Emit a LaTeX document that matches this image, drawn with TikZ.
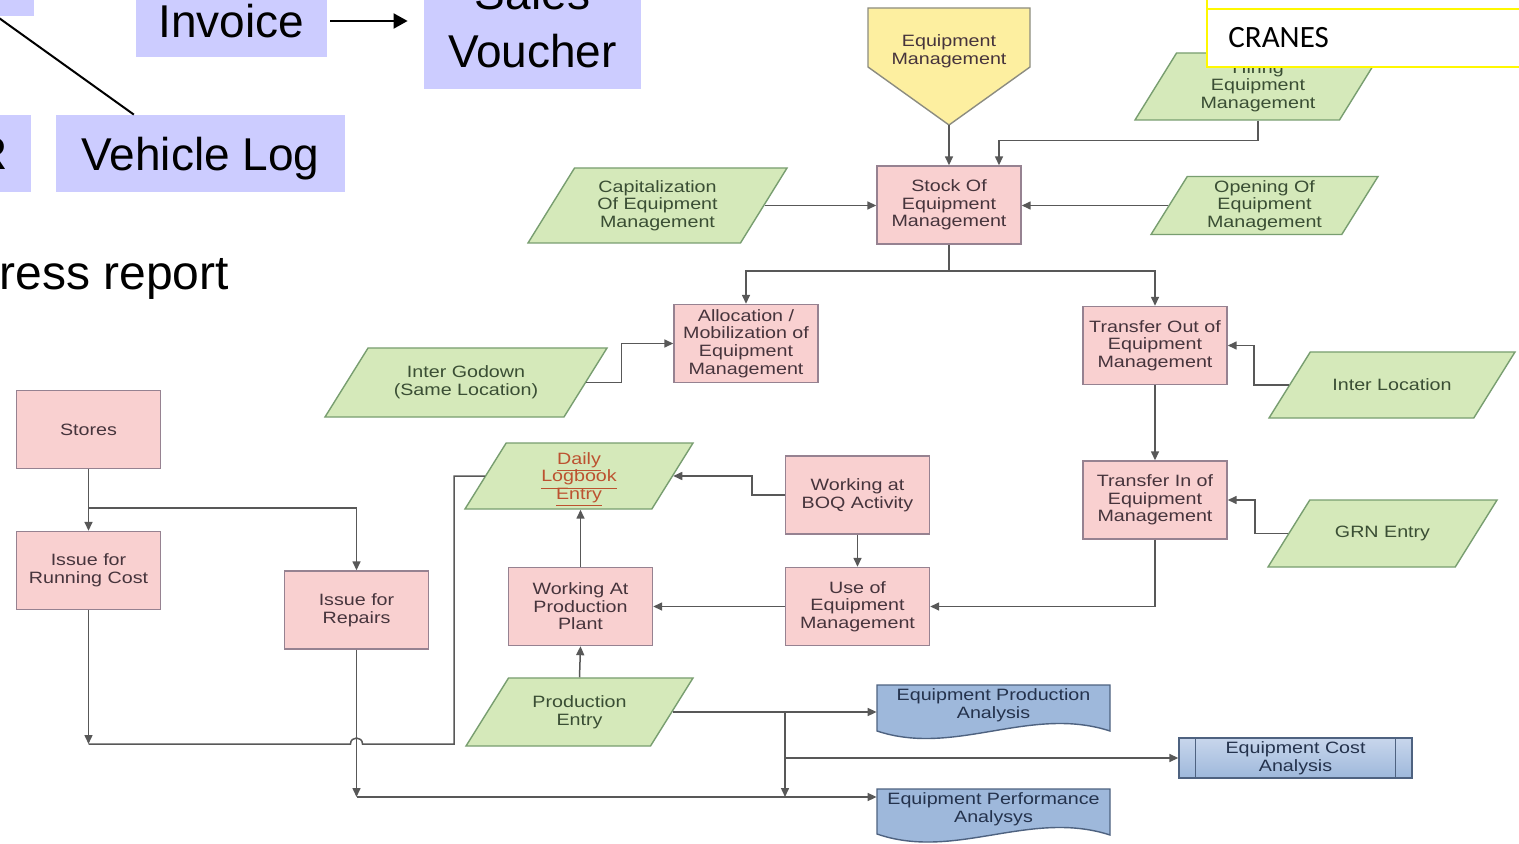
\documentclass[tikz,border=0pt]{standalone}
\usepackage{amsmath}
\usepackage{fontspec}
\setmainfont{Liberation Sans}
\newfontfamily\flowfont[FakeStretch=1.2]{Liberation Sans}
\newfontfamily\cranefont{Carlito}
\usetikzlibrary{shapes.geometric,arrows.meta,calc}
\definecolor{slidebox}{RGB}{204,204,255}
\definecolor{procfill}{RGB}{249,208,208}
\definecolor{procline}{RGB}{150,130,145}
\definecolor{proctext}{RGB}{70,52,60}
\definecolor{iofill}{RGB}{213,233,186}
\definecolor{ioline}{RGB}{120,158,112}
\definecolor{iotext}{RGB}{58,78,52}
\definecolor{pentfill}{RGB}{253,239,160}
\definecolor{pentline}{RGB}{140,140,128}
\definecolor{docfill}{RGB}{158,184,219}
\definecolor{doctop}{RGB}{200,214,236}
\definecolor{docline}{RGB}{78,98,128}
\definecolor{doctext}{RGB}{36,50,76}
\definecolor{flowline}{RGB}{88,88,88}
\definecolor{logtext}{RGB}{188,82,48}
\definecolor{craneline}{RGB}{255,248,0}
\newcommand\flowsize{\fontsize{8.2}{8.8}\selectfont}
\newcommand\slidesize{\fontsize{23}{29}\selectfont}
\newcommand\logline[1]{\smash[b]{\underline{#1}}}

\begin{document}
\begin{tikzpicture}[x=0.5pt,y=-0.5pt,
  slide/.style={rectangle, fill=slidebox, inner sep=0pt, text depth=0pt, font=\slidesize},
  slideline/.style={black, line width=1pt},
  proc/.style={rectangle, draw=procline, fill=procfill, line width=0.7pt, minimum width=72pt, minimum height=39pt, align=center, font=\flowfont\flowsize, text=proctext},
  io/.style={trapezium, trapezium left angle=58, trapezium right angle=122, trapezium stretches body, draw=ioline, fill=iofill, line width=0.7pt, align=center, font=\flowfont\flowsize, text=iotext},
  docnode/.style={rectangle, minimum width=116.5pt, minimum height=20pt, align=center, font=\flowfont\flowsize, text=doctext},
  docshape/.style={draw=docline, fill=docfill, line width=0.7pt},
  flow/.style={draw=flowline, line width=0.75pt, -{Triangle[length=4.5pt,width=4pt]}},
  link/.style={draw=flowline, line width=0.75pt}]
\tikzstyle{every node}+=[inner sep=1pt]
\useasboundingbox (0,0) rectangle (1519,844);
\clip (0,0) rectangle (1519,844);
\fill[white] (0,0) rectangle (1519,844);

\node[slide, minimum width=18.5pt, minimum height=20pt, anchor=south east] (dpbox) at (34,16) {};
\node[slide, minimum width=95.5pt, minimum height=36pt] (invoice) at (231.5,21) {Invoice};
\node[slide, minimum width=108.5pt, inner ysep=10.5pt, anchor=south, align=center] (svouch) at (532.5,89) {Sales\\Voucher};
\node[slide, minimum width=144.5pt, minimum height=38.5pt] (vlog) at (200.5,153.5) {Vehicle Log};
\node[slide, text width=20pt, align=right, inner xsep=11.5pt, minimum height=38.5pt, anchor=east] (rbox) at (31,153.5) {R};
\node[anchor=base west, inner sep=0pt, font=\fontsize{24}{29}\selectfont] (prog) at (-1,290) {ress report};
\draw[slideline] (dpbox.south west) -- ($(vlog.north west)!0.27!(vlog.north east)$);
\draw[slideline, -{Triangle[length=7pt,width=7.5pt]}, shorten <=1.5pt, shorten >=8pt] (invoice.east) -- (svouch.west |- invoice.east);

\draw[draw=pentline, fill=pentfill, line width=0.7pt] (868,8) -- (1030,8) -- (1030,67) -- (949,125) -- (868,67) -- cycle;
\node[align=center, font=\flowfont\flowsize, text=proctext] (eqm) at (949,51.5) {Equipment\\Management};
\coordinate (eqtip) at (949,125);

\node[proc] (stock) at (949,205) {Stock Of\\Equipment\\Management};
\node[io, inner ysep=4pt, minimum width=123pt, minimum height=33.5pt] (hire) at (1258,86.5) {Hiring\\Equipment\\Management};
\node[io, inner ysep=6pt, minimum width=129.5pt, minimum height=37.5pt] (cap) at (657.5,205.5) {Capitalization\\Of Equipment\\Management};
\node[io, inner ysep=1.9pt, minimum width=113.5pt, minimum height=29pt] (open) at (1264.5,205.5) {Opening Of\\Equipment\\Management};
\node[proc] (alloc) at (746,343.5) {Allocation /\\Mobilization of\\Equipment\\Management};
\node[io, inner ysep=9pt, minimum width=141pt, minimum height=34.5pt] (igd) at (466,382.5) {Inter Godown\\(Same Location)};
\node[proc] (tout) at (1155,345.5) {Transfer Out of\\Equipment\\Management};
\node[io, inner ysep=13.5pt, minimum width=123pt, minimum height=33pt] (iloc) at (1392,385) {Inter Location};
\node[proc] (tin) at (1155,500) {Transfer In of\\Equipment\\Management};
\node[io, inner ysep=13pt, minimum width=114.5pt, minimum height=33.5pt] (grn) at (1382.5,533.5) {GRN Entry};
\node[proc] (boq) at (857.5,495) {Working at\\BOQ Activity};
\node[proc] (use) at (857.5,606.5) {Use of\\Equipment\\Management};
\node[proc] (wapp) at (580.5,606.5) {Working At\\Production\\Plant};
\node[io, inner ysep=4.7pt, minimum width=114pt, minimum height=33pt, text=logtext] (daily) at (579,476) {\logline{Daily}\\\logline{Logbook}\\\logline{Entry}};
\node[io, inner ysep=8.8pt, minimum width=113.5pt, minimum height=34pt] (pe) at (579.5,712) {Production\\Entry};
\node[proc] (stores) at (88.5,429.5) {Stores};
\node[proc] (run) at (88.5,570.5) {Issue for\\Running Cost};
\node[proc] (rep) at (356.5,610) {Issue for\\Repairs};

\draw[docshape] (877,685) -- (1110,685) -- (1110,731) .. controls (1030,705) and (955,757) .. (877,731) -- cycle;
\node[docnode] (epa) at (993.5,705) {Equipment Production\\Analysis};
\draw[docshape] (877,789) -- (1110,789) -- (1110,835) .. controls (1030,809) and (955,861) .. (877,834) -- cycle;
\node[docnode] (epf) at (993.5,809) {Equipment Performance\\Analysys};
\node[docnode, draw=docline, line width=0.7pt, top color=doctop, bottom color=docfill] (ecost) at (1295.5,758) {Equipment Cost\\Analysis};
\draw[docline, line width=0.7pt] ([xshift=8.5pt]ecost.north west) -- ([xshift=8.5pt]ecost.south west);
\draw[docline, line width=0.7pt] ([xshift=-8.5pt]ecost.north east) -- ([xshift=-8.5pt]ecost.south east);

\coordinate (sbr) at (949,271);
\coordinate (sj) at (88.5,508);
\coordinate (lj) at (88.5,744);
\coordinate (dj) at (454,744);
\coordinate (rj) at (356.5,797);
\coordinate (pj) at (785,712);
\coordinate (pk) at (785,758);
\draw[flow] (eqtip) -- (stock.north);
\draw[flow] (hire.center |- hire.south) -- ++(0,20) -| ([xshift=25pt]stock.north);
\draw[flow] (cap.right side) -- (cap.right side -| stock.west);
\draw[flow] (open.left side) -- (open.left side -| stock.east);
\draw[link] (stock.south) -- (sbr);
\draw[flow] (sbr) -| (alloc.north);
\draw[flow] (sbr) -| (tout.north);
\draw[flow] (igd.right side) -- ++(35,0) |- (alloc.west);
\draw[flow] (iloc.left side) -- ++(-35,0) |- (tout.east);
\draw[flow] (tout.south) -- (tin.north);
\draw[flow] (grn.left side) -- ++(-33,0) |- (tin.east);
\draw[flow] (tin.south) |- (use.east);
\draw[flow] (boq.south) -- (use.north);
\draw[flow] (boq.west) -- ++(-33,0) |- (daily.right side);
\draw[flow] (use.west) -- (wapp.east);
\draw[flow] (wapp.north) -- (wapp.north |- daily.south);
\draw[flow] (pe.center |- pe.north) -- (wapp.south);
\draw[flow] (pe.right side) -- (pe.right side -| epa.west);
\draw[flow] (pj) -- (pj |- rj);
\draw[flow] (pk) -- (pk -| ecost.west);
\draw[flow] (stores.south) -- (run.north);
\draw[flow] (sj) -| (rep.north);
\draw[flow] (rep.south) -- (rj);
\draw[flow] (rj) -- (rj -| epf.west);
\draw[flow] (run.south) -- (lj);
\draw[link] (daily.left side) -| (dj) -- (362.5,744) .. controls (362.5,736) and (350.5,736) .. (350.5,744) -- (lj);

\fill[white] (1207,0) rectangle (1519,67);
\draw[craneline, line width=1.2pt] (1207,0) -- (1207,67) -- (1519,67);
\draw[craneline, line width=1.2pt] (1207,9) -- (1519,9);
\node[anchor=base west, inner sep=0pt, font=\cranefont\fontsize{15.5}{18}\selectfont] (cranes) at (1228,48) {CRANES};
\end{tikzpicture}
\end{document}
